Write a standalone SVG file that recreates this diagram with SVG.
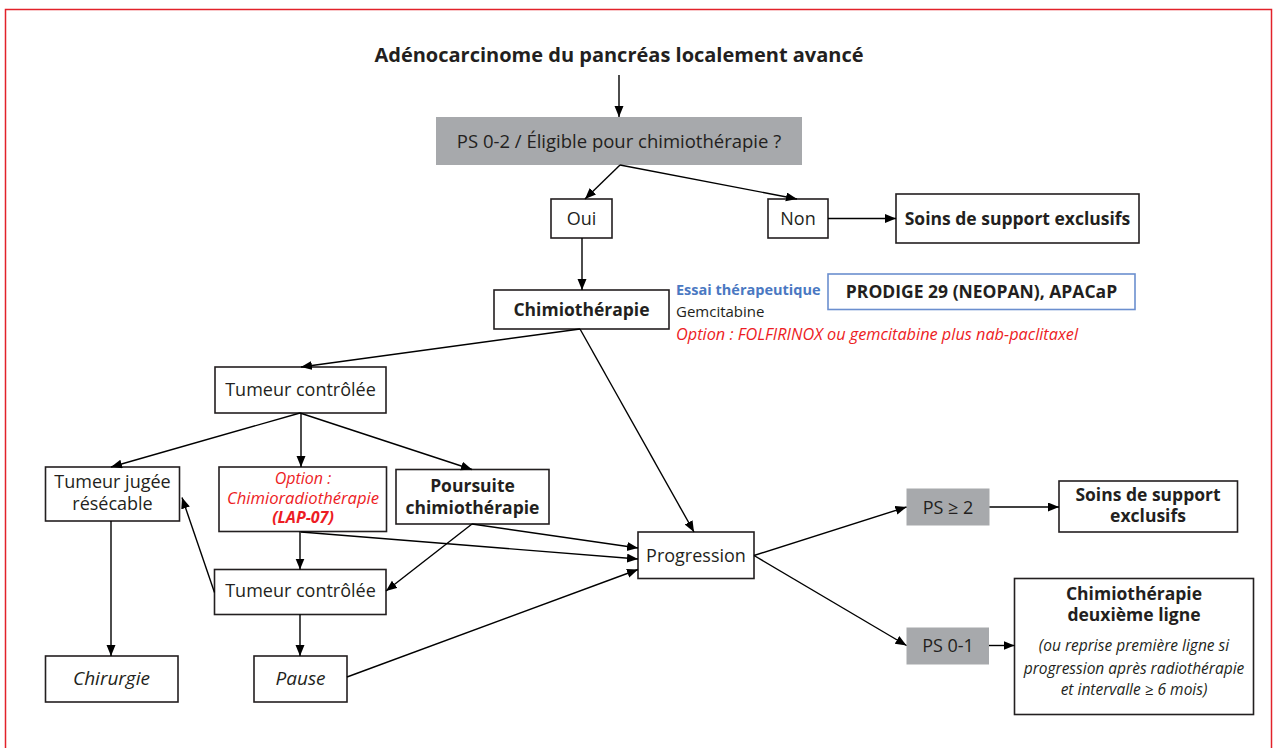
<svg xmlns="http://www.w3.org/2000/svg" width="1277" height="748" viewBox="0 0 1277 748">
<style>
text{font-family:"Open Sans","Noto Sans","Liberation Sans",sans-serif;fill:#231f20;text-anchor:middle}
.r{font-size:18px}
.b{font-size:17.5px;font-weight:bold}
.i{font-style:italic}
.red{fill:#ed1c24}
.box{fill:#fff;stroke:#231f20;stroke-width:1.6}
.gray{fill:#a7a9ac}
.blue{fill:#fff;stroke:#6b8fcf;stroke-width:1.6}
.side{text-anchor:start}
#connectors line{stroke:#000;stroke-width:1.4;marker-end:url(#ah)}
</style>
<defs>
<marker id="ah" markerUnits="userSpaceOnUse" markerWidth="12" markerHeight="10" refX="11" refY="4.5" orient="auto">
<path d="M0,0 L11,4.5 L0,9 z" fill="#000"/>
</marker>
</defs>
<rect x="5.5" y="9.5" width="1266" height="760" fill="#fff" stroke="#e2222a" stroke-width="1.5"/>

<g id="title"><text class="b" x="619" y="62" style="font-size:20px">Adénocarcinome du pancréas localement avancé</text></g>

<g id="ps02"><rect class="gray" x="436" y="117" width="366" height="48"/><text class="r" x="619" y="148" style="font-size:18.5px">PS 0-2 / Éligible pour chimiothérapie ?</text></g>
<g id="oui"><rect class="box" x="551" y="199" width="61" height="39"/><text class="r" x="581.5" y="225">Oui</text></g>
<g id="non"><rect class="box" x="768" y="199" width="60" height="39"/><text class="r" x="798" y="225">Non</text></g>
<g id="soins1"><rect class="box" x="896" y="194" width="243" height="49"/><text class="b" x="1017.5" y="225">Soins de support exclusifs</text></g>
<g id="chimio"><rect class="box" x="494" y="290" width="175" height="39"/><text class="b" x="581.5" y="316">Chimiothérapie</text></g>
<g id="essai">
<text class="side" x="676" y="295" style="font-size:14.5px;font-weight:bold;fill:#4a78c2">Essai thérapeutique</text>
<text class="side" x="676" y="317" style="font-size:15px">Gemcitabine</text>
<text class="side i red" x="676" y="340" style="font-size:15.5px" textLength="402" lengthAdjust="spacingAndGlyphs">Option : FOLFIRINOX ou gemcitabine plus nab-paclitaxel</text>
</g>
<g id="prodige"><rect class="blue" x="828" y="274" width="307" height="35.5"/><text class="b" x="981.5" y="298">PRODIGE 29 (NEOPAN), APACaP</text></g>
<g id="tc1"><rect class="box" x="215" y="367" width="171" height="46"/><text class="r" x="300.5" y="396">Tumeur contrôlée</text></g>
<g id="tjr"><rect class="box" x="45.5" y="467" width="134" height="54"/><text class="r" x="112.5" y="488">Tumeur jugée</text><text class="r" x="112.5" y="510">résécable</text></g>
<g id="option"><rect class="box" x="219" y="467" width="167.5" height="64.5"/>
<text class="i red" x="303" y="484" style="font-size:16px">Option :</text>
<text class="i red" x="303" y="504" style="font-size:16px" textLength="152" lengthAdjust="spacingAndGlyphs">Chimioradiothérapie</text>
<text class="i red" x="303" y="523" style="font-size:16px;font-weight:bold">(LAP-07)</text></g>
<g id="poursuite"><rect class="box" x="396" y="469.5" width="153" height="54.5"/><text class="b" x="472.5" y="491.5">Poursuite</text><text class="b" x="472.5" y="513.5">chimiothérapie</text></g>
<g id="progression"><rect class="box" x="638" y="532" width="116" height="46.5"/><text class="r" x="696" y="561.5">Progression</text></g>
<g id="ps2"><rect class="gray" x="906.5" y="488.5" width="83" height="37"/><text class="r" x="948" y="513.5">PS ≥ 2</text></g>
<g id="soins2"><rect class="box" x="1059" y="481" width="178.5" height="51"/><text class="b" x="1148" y="501">Soins de support</text><text class="b" x="1148" y="522">exclusifs</text></g>
<g id="ps01"><rect class="gray" x="906.5" y="627.5" width="82.5" height="37"/><text class="r" x="948" y="652">PS 0-1</text></g>
<g id="chimio2"><rect class="box" x="1014.5" y="578.5" width="239" height="136"/>
<text class="b" x="1134" y="600">Chimiothérapie</text>
<text class="b" x="1134" y="621">deuxième ligne</text>
<text class="i" x="1134" y="651" style="font-size:15.5px">(ou reprise première ligne si</text>
<text class="i" x="1134" y="673.5" style="font-size:15.5px">progression après radiothérapie</text>
<text class="i" x="1134" y="694.5" style="font-size:15.5px">et intervalle ≥ 6 mois)</text></g>
<g id="tc2"><rect class="box" x="214.5" y="569.5" width="171.5" height="45"/><text class="r" x="300.5" y="597">Tumeur contrôlée</text></g>
<g id="chirurgie"><rect class="box" x="45.5" y="656" width="132.5" height="46"/><text class="i" x="111.5" y="685" style="font-size:19px">Chirurgie</text></g>
<g id="pause"><rect class="box" x="254" y="656" width="93" height="46"/><text class="i" x="300.5" y="685" style="font-size:19px">Pause</text></g>

<g id="connectors">
<line x1="619" y1="75" x2="619" y2="117"/>
<line x1="620" y1="165" x2="585" y2="199"/>
<line x1="620" y1="165" x2="797" y2="199"/>
<line x1="828" y1="218.5" x2="896" y2="218.5"/>
<line x1="582" y1="238" x2="582" y2="290"/>
<line x1="580" y1="329" x2="301" y2="367"/>
<line x1="580" y1="329" x2="694" y2="532"/>
<line x1="300" y1="413" x2="111" y2="467"/>
<line x1="301" y1="413" x2="301" y2="467"/>
<line x1="300" y1="413" x2="472" y2="469.5"/>
<line x1="111" y1="521" x2="111" y2="656"/>
<line x1="300" y1="531.5" x2="300" y2="569.5"/>
<line x1="301" y1="532" x2="638" y2="559"/>
<line x1="472" y1="524" x2="638" y2="548"/>
<line x1="472" y1="524" x2="386" y2="591"/>
<line x1="214.5" y1="592.5" x2="182" y2="497.5"/>
<line x1="300" y1="614.5" x2="300" y2="656"/>
<line x1="347" y1="677" x2="638" y2="569.5"/>
<line x1="754" y1="555.5" x2="906.5" y2="507"/>
<line x1="754" y1="555.5" x2="906.5" y2="645.5"/>
<line x1="989.5" y1="507" x2="1059" y2="507"/>
<line x1="989" y1="645.5" x2="1014.5" y2="645.5"/>
</g>
</svg>
